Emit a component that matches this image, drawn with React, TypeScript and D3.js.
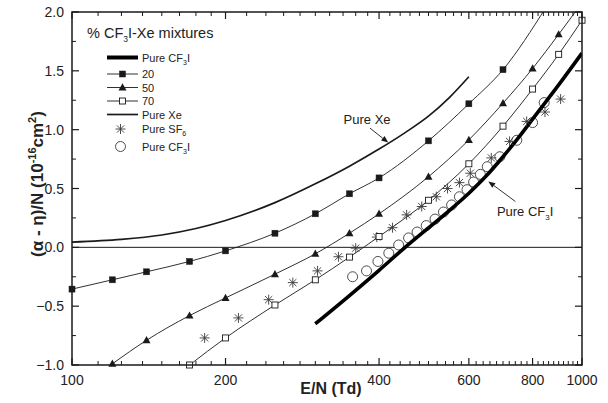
import React from "react";
import * as d3 from "d3";

const W = 608;
const H = 403;
const plot = { left: 72, right: 582, top: 12, bottom: 365 };

// axis ticks
const xMajor = [100, 200, 400, 600, 800, 1000];
const xMinor = [112.5, 125, 137.5, 150, 162.5, 175, 187.5,
  220, 240, 260, 280, 300, 320, 340, 360, 380,
  420, 440, 460, 480, 500, 520, 540, 560, 580,
  620, 640, 660, 680, 700, 720, 740, 760, 780,
  820, 840, 860, 880, 900, 920, 940, 960, 980];
const yMajor = [-1.0, -0.5, 0.0, 0.5, 1.0, 1.5, 2.0];
const yMinor = [-0.75, -0.25, 0.25, 0.75, 1.25, 1.75];

// % CF3I in CF3I-Xe mixtures, E/N (Td) vs (alpha-eta)/N
const mix20: [number, number][] = [
  [100, -0.355], [120, -0.276], [140, -0.208], [170, -0.12], [200, -0.03],
  [250, 0.12], [300, 0.285], [350, 0.455], [400, 0.59], [500, 0.905],
  [600, 1.22], [700, 1.51],
];
const mix20Tail: [number, number][] = [[850, 2.04]];

const mix50: [number, number][] = [
  [120, -0.99], [140, -0.79], [170, -0.58], [200, -0.43], [250, -0.228],
  [300, -0.055], [350, 0.12], [400, 0.285], [500, 0.6], [600, 0.913],
  [700, 1.225], [800, 1.52], [900, 1.81],
];
const mix50Tail: [number, number][] = [[985, 2.04]];

const mix70: [number, number][] = [
  [170, -1.0], [200, -0.77], [250, -0.49], [300, -0.276], [350, -0.083],
  [400, 0.092], [500, 0.4], [600, 0.71], [700, 1.03], [800, 1.345],
  [900, 1.64], [1000, 1.93],
];

const pureXe: [number, number][] = [
  [100, 0.045], [125, 0.068], [150, 0.105], [175, 0.16], [200, 0.228],
  [250, 0.38], [300, 0.54], [350, 0.69], [400, 0.835], [450, 0.975],
  [500, 1.115], [550, 1.275], [600, 1.45],
];

const pureCF3I: [number, number][] = [
  [300, -0.65], [350, -0.41], [400, -0.195], [450, 0.0], [500, 0.165],
  [550, 0.315], [600, 0.46], [650, 0.61], [700, 0.77], [750, 0.93],
  [800, 1.09], [900, 1.38], [1000, 1.65],
];

const pureSF6: [number, number][] = [
  [182, -0.77], [212, -0.6], [243, -0.445], [271, -0.3], [303, -0.2],
  [333, -0.08], [360, -0.007], [396, 0.087], [425, 0.167], [453, 0.276],
  [485, 0.347], [518, 0.43], [545, 0.5], [575, 0.55], [604, 0.63],
  [664, 0.76], [721, 0.9], [779, 1.07], [846, 1.15], [908, 1.26],
];

const pureCF3IExp: [number, number][] = [
  [355, -0.25], [378, -0.2], [398, -0.12], [418, -0.05], [437, 0.02],
  [457, 0.08], [475, 0.13], [495, 0.185], [515, 0.24], [535, 0.3],
  [555, 0.36], [575, 0.43], [595, 0.49], [613, 0.555], [632, 0.62],
  [652, 0.685], [690, 0.77], [745, 0.91], [800, 1.06], [843, 1.23],
];

const ink = "#1a1a1a";
const font = "Arial, 'Liberation Sans', Helvetica, sans-serif";

const Square = ({ x, y, open }: { x: number; y: number; open?: boolean }) => (
  <rect x={x - 3} y={y - 3} width={6} height={6}
    fill={open ? "white" : ink} stroke={ink} strokeWidth={open ? 0.9 : 0.5} />
);

const Triangle = ({ x, y }: { x: number; y: number }) => (
  <path d={`M${x},${y - 4.2}L${x + 4},${y + 3}L${x - 4},${y + 3}Z`} fill={ink} />
);

const Star = ({ x, y }: { x: number; y: number }) => {
  const r = 5;
  const d = r * 0.72;
  return (
    <path
      d={`M${x - r},${y}L${x + r},${y}M${x},${y - r}L${x},${y + r}M${x - d},${y - d}L${x + d},${y + d}M${x - d},${y + d}L${x + d},${y - d}`}
      stroke="#3a3a3a" strokeWidth={0.9} fill="none" />
  );
};

const Circle = ({ x, y }: { x: number; y: number }) => (
  <circle cx={x} cy={y} r={5} fill="white" stroke="#3a3a3a" strokeWidth={0.9} />
);

export default function App() {
  const x = d3.scaleLog().domain([100, 1000]).range([plot.left, plot.right]);
  const y = d3.scaleLinear().domain([-1, 2]).range([plot.bottom, plot.top]);

  const line = d3.line<[number, number]>()
    .x((d) => x(d[0]))
    .y((d) => y(d[1]))
    .curve(d3.curveMonotoneX);

  const major = 7;
  const minor = 4;

  // annotation positions (data units)
  const xeArrow = { from: [384, 1.013], to: [417, 0.89], label: [379, 1.05] };
  const cfArrow = { from: [740, 0.39], to: [655, 0.56], label: [681, 0.268] };

  const arrow = (from: number[], to: number[]) => {
    const x1 = x(from[0]), y1 = y(from[1]);
    const x2 = x(to[0]), y2 = y(to[1]);
    const a = Math.atan2(y2 - y1, x2 - x1);
    const L = 7, Wd = 2.8;
    const bx = x2 - L * Math.cos(a), by = y2 - L * Math.sin(a);
    const px = -Math.sin(a) * Wd, py = Math.cos(a) * Wd;
    return (
      <g>
        <line x1={x1} y1={y1} x2={bx} y2={by} stroke={ink} strokeWidth={0.9} />
        <path d={`M${x2},${y2}L${bx + px},${by + py}L${bx - px},${by - py}Z`} fill={ink} />
      </g>
    );
  };

  const legendRows = [57.5, 74, 87.5, 101, 114.5, 129, 146.5];
  const lx1 = 107, lx2 = 138, ltx = 142, lmx = 122.5;

  return (
    <div style={{ position: "fixed", left: 0, top: 0, width: W, height: H, background: "white" }}>
      <svg width={W} height={H} style={{ fontFamily: font, display: "block" }}>
        <defs>
          <clipPath id="plotClip">
            <rect x={plot.left} y={plot.top} width={plot.right - plot.left} height={plot.bottom - plot.top} />
          </clipPath>
        </defs>

        {/* zero line */}
        <line x1={plot.left} x2={plot.right} y1={y(0)} y2={y(0)} stroke={ink} strokeWidth={1} />

        {/* curves */}
        <g clipPath="url(#plotClip)" fill="none" stroke={ink}>
          <path d={line(pureXe) || ""} strokeWidth={1.7} />
          <path d={line([...mix20, ...mix20Tail]) || ""} strokeWidth={0.9} />
          <path d={line([...mix50, ...mix50Tail]) || ""} strokeWidth={0.9} />
          <path d={line(mix70) || ""} strokeWidth={0.9} />
        </g>

        {/* markers */}
        {pureCF3IExp.map((d, i) => <Circle key={"c" + i} x={x(d[0])} y={y(d[1])} />)}
        <g clipPath="url(#plotClip)">
          <path d={line(pureCF3I) || ""} fill="none" stroke="#000" strokeWidth={3.6} />
        </g>
        {pureSF6.map((d, i) => <Star key={"s" + i} x={x(d[0])} y={y(d[1])} />)}
        {mix20.map((d, i) => <Square key={"a" + i} x={x(d[0])} y={y(d[1])} />)}
        {mix50.map((d, i) => <Triangle key={"b" + i} x={x(d[0])} y={y(d[1])} />)}
        {mix70.map((d, i) => <Square key={"o" + i} x={x(d[0])} y={y(d[1])} open />)}

        {/* frame */}
        <rect x={plot.left} y={plot.top} width={plot.right - plot.left} height={plot.bottom - plot.top}
          fill="none" stroke={ink} strokeWidth={1.5} />

        {/* x ticks, bottom and top */}
        {xMajor.map((t) => (
          <g key={"xm" + t}>
            <line x1={x(t)} x2={x(t)} y1={plot.bottom} y2={plot.bottom - major} stroke={ink} strokeWidth={1.2} />
            <line x1={x(t)} x2={x(t)} y1={plot.top} y2={plot.top + major} stroke={ink} strokeWidth={1.2} />
            <text x={x(t)} y={plot.bottom + 20} textAnchor="middle" fontSize={14} fill="#222">{t}</text>
          </g>
        ))}
        {xMinor.map((t) => (
          <g key={"xn" + t}>
            <line x1={x(t)} x2={x(t)} y1={plot.bottom} y2={plot.bottom - minor} stroke={ink} strokeWidth={1} />
            <line x1={x(t)} x2={x(t)} y1={plot.top} y2={plot.top + minor} stroke={ink} strokeWidth={1} />
          </g>
        ))}

        {/* y ticks, left and right */}
        {yMajor.map((t) => (
          <g key={"ym" + t}>
            <line x1={plot.left} x2={plot.left + major} y1={y(t)} y2={y(t)} stroke={ink} strokeWidth={1.2} />
            <line x1={plot.right} x2={plot.right - major} y1={y(t)} y2={y(t)} stroke={ink} strokeWidth={1.2} />
            <text x={plot.left - 8} y={y(t) + 5} textAnchor="end" fontSize={14} fill="#222">{d3.format(".1f")(t)}</text>
          </g>
        ))}
        {yMinor.map((t) => (
          <g key={"yn" + t}>
            <line x1={plot.left} x2={plot.left + minor} y1={y(t)} y2={y(t)} stroke={ink} strokeWidth={1} />
            <line x1={plot.right} x2={plot.right - minor} y1={y(t)} y2={y(t)} stroke={ink} strokeWidth={1} />
          </g>
        ))}

        {/* axis titles */}
        <text x={331} y={394} textAnchor="middle" fontSize={16} fontWeight="bold" fill="#222">E/N (Td)</text>
        <text transform="translate(43,184) rotate(-90)" textAnchor="middle"
          fontSize={17} fontWeight="bold" fill="#222">
          (α - η)/N (10<tspan dy={-7} fontSize={11}>-16</tspan><tspan dy={7}>cm</tspan><tspan dy={-7} fontSize={11}>2</tspan><tspan dy={7}>)</tspan>
        </text>

        {/* annotations */}
        {arrow(xeArrow.from, xeArrow.to)}
        <text x={x(xeArrow.label[0])} y={y(xeArrow.label[1])} textAnchor="middle" fontSize={13} fill="#222">Pure Xe</text>
        {arrow(cfArrow.from, cfArrow.to)}
        <text x={x(cfArrow.label[0])} y={y(cfArrow.label[1])} fontSize={13} fill="#222">
          Pure CF<tspan dy={4} fontSize={8}>3</tspan><tspan dy={-4}>I</tspan>
        </text>

        {/* legend */}
        <text x={87} y={38} fontSize={14.5} fill="#222">
          % CF<tspan dy={4} fontSize={8.5}>3</tspan><tspan dy={-4}>I-Xe mixtures</tspan>
        </text>
        <g fontSize={11} fill="#222">
          <line x1={lx1} x2={lx2} y1={legendRows[0]} y2={legendRows[0]} stroke="#000" strokeWidth={4} />
          <text x={ltx} y={legendRows[0] + 4}>Pure CF<tspan dy={3} fontSize={7}>3</tspan><tspan dy={-3}>I</tspan></text>

          <line x1={lx1} x2={lx2} y1={legendRows[1]} y2={legendRows[1]} stroke={ink} strokeWidth={0.9} />
          <Square x={lmx} y={legendRows[1]} />
          <text x={ltx} y={legendRows[1] + 4}>20</text>

          <line x1={lx1} x2={lx2} y1={legendRows[2]} y2={legendRows[2]} stroke={ink} strokeWidth={0.9} />
          <Triangle x={lmx} y={legendRows[2]} />
          <text x={ltx} y={legendRows[2] + 4}>50</text>

          <line x1={lx1} x2={lx2} y1={legendRows[3]} y2={legendRows[3]} stroke={ink} strokeWidth={0.9} />
          <Square x={lmx} y={legendRows[3]} open />
          <text x={ltx} y={legendRows[3] + 4}>70</text>

          <line x1={lx1} x2={lx2} y1={legendRows[4]} y2={legendRows[4]} stroke={ink} strokeWidth={1.7} />
          <text x={ltx} y={legendRows[4] + 4}>Pure Xe</text>

          <Star x={lmx - 2} y={legendRows[5]} />
          <text x={ltx} y={legendRows[5] + 4}>Pure SF<tspan dy={3} fontSize={7}>6</tspan></text>

          <Circle x={lmx - 2} y={legendRows[6]} />
          <text x={ltx} y={legendRows[6] + 4}>Pure CF<tspan dy={3} fontSize={7}>3</tspan><tspan dy={-3}>I</tspan></text>
        </g>
      </svg>
    </div>
  );
}
